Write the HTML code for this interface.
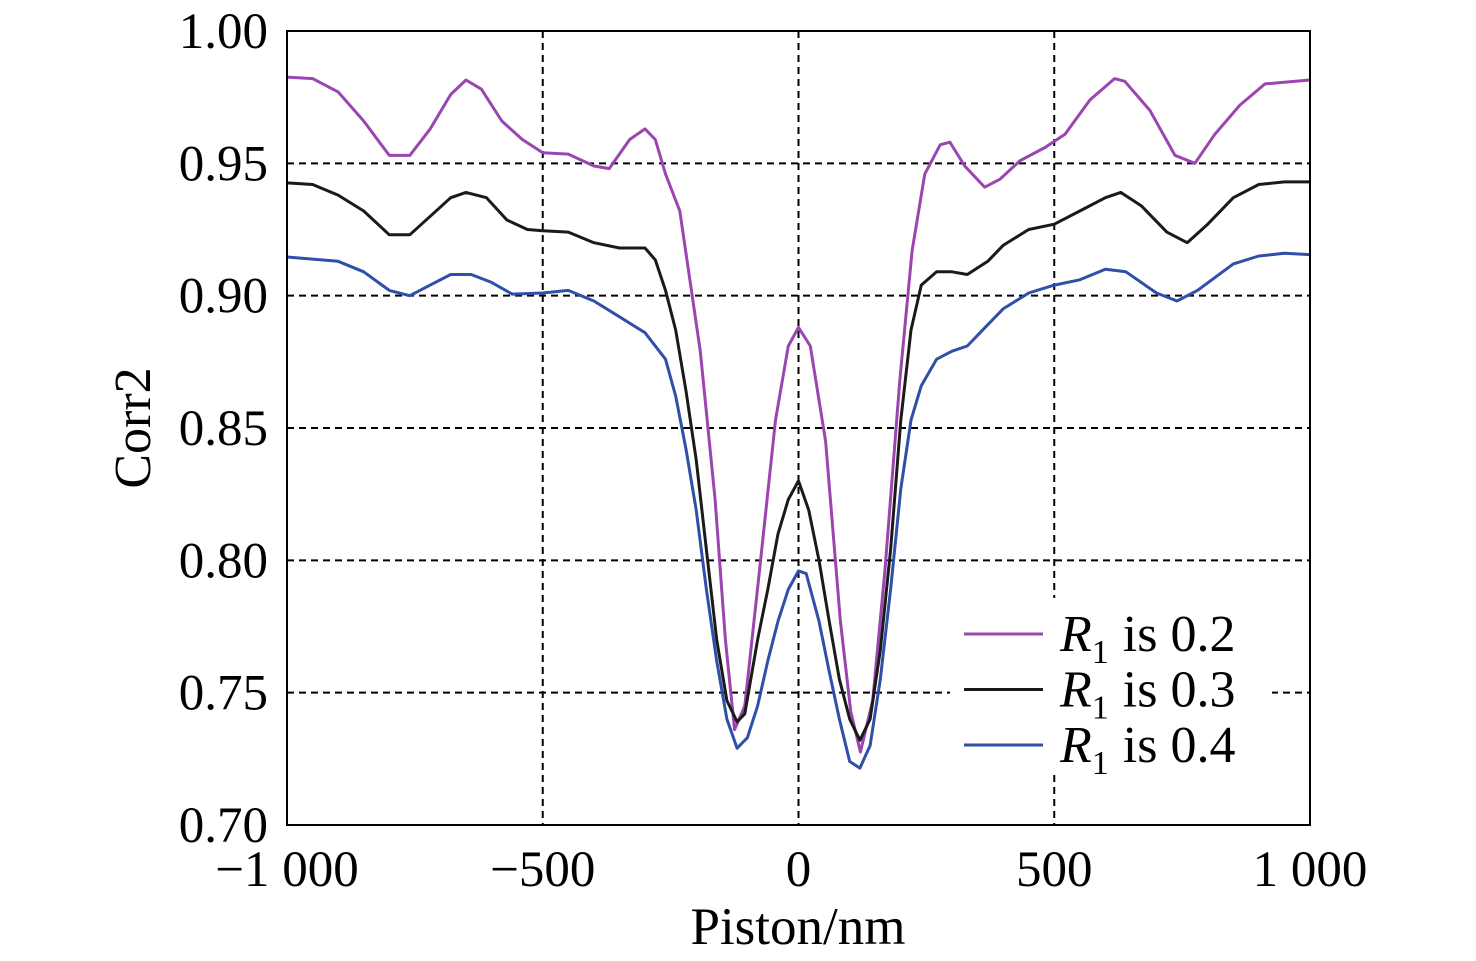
<!DOCTYPE html>
<html><head><meta charset="utf-8"><style>
html,body{margin:0;padding:0;background:#fff;}
svg{display:block;font-family:"Liberation Serif",serif;}
</style></head><body>
<svg id="chart" width="1476" height="961" viewBox="0 0 1476 961" xmlns="http://www.w3.org/2000/svg">
<g id="grid"></g>
<g id="series"></g>
<rect x="950" y="598" width="322" height="177" fill="#fff"/>
<rect x="287" y="31" width="1023" height="794" fill="none" stroke="#000" stroke-width="2"/>
<g id="ticks" font-size="51" fill="#000"></g>
<text x="798" y="944" text-anchor="middle" font-size="53">Piston/nm</text>
<text transform="translate(150,428) rotate(-90)" text-anchor="middle" font-size="52">Corr2</text>
<g id="legend" font-size="52"></g>
</svg>
<script>
const xTicks=[-1000,-500,0,500,1000];
const xTickLabels=["\u22121 000","\u2212500","0","500","1 000"];
const yTicks=[0.70,0.75,0.80,0.85,0.90,0.95,1.00];
const yTickLabels=["0.70","0.75","0.80","0.85","0.90","0.95","1.00"];
const seriesNames=["R1 is 0.2","R1 is 0.3","R1 is 0.4"];
const seriesColors=["#9b45b0","#1a1a1a","#2f4fa8"];
const x02=[-1000,-950,-900,-850,-800,-760,-720,-680,-650,-620,-580,-540,-500,-450,-400,-370,-330,-300,-280,-260,-232,-192,-163,-143,-125,-105,-74,-45,-20,0,23,53,82,102,121,145,169,198,222,247,277,296,325,364,394,433,482,521,570,618,638,687,736,775,814,863,912,1000];
const y02=[0.9826,0.982,0.977,0.966,0.953,0.953,0.963,0.976,0.9815,0.978,0.966,0.959,0.954,0.9535,0.949,0.948,0.959,0.963,0.959,0.946,0.932,0.879,0.823,0.770,0.736,0.745,0.80,0.853,0.881,0.888,0.881,0.845,0.777,0.743,0.7276,0.747,0.796,0.868,0.917,0.946,0.957,0.958,0.949,0.941,0.944,0.951,0.956,0.961,0.974,0.982,0.981,0.970,0.953,0.950,0.961,0.972,0.980,0.9815];
const x03=[-1000,-950,-900,-850,-800,-760,-720,-680,-650,-610,-570,-530,-500,-450,-400,-350,-300,-280,-260,-240,-220,-200,-180,-160,-140,-120,-105,-80,-60,-40,-20,0,20,40,60,80,100,120,140,160,180,200,220,240,270,300,330,370,400,450,500,550,600,630,670,720,760,800,850,900,950,1000];
const y03=[0.9426,0.942,0.938,0.932,0.923,0.923,0.930,0.937,0.939,0.937,0.9286,0.925,0.9245,0.924,0.920,0.918,0.918,0.9135,0.902,0.887,0.864,0.838,0.804,0.770,0.747,0.739,0.742,0.770,0.789,0.810,0.823,0.830,0.819,0.800,0.777,0.755,0.740,0.732,0.740,0.766,0.804,0.853,0.887,0.904,0.909,0.909,0.908,0.913,0.919,0.925,0.927,0.932,0.937,0.939,0.934,0.924,0.920,0.927,0.937,0.942,0.943,0.943];
const x04=[-1000,-900,-850,-800,-760,-720,-680,-640,-600,-560,-500,-450,-400,-350,-300,-260,-240,-220,-200,-180,-160,-140,-120,-100,-80,-60,-40,-20,0,15,40,60,80,100,120,140,160,180,200,220,240,270,300,330,360,400,450,500,550,600,640,700,740,780,850,900,950,1000];
const y04=[0.9146,0.913,0.909,0.902,0.900,0.904,0.908,0.908,0.905,0.9006,0.901,0.902,0.898,0.892,0.886,0.876,0.862,0.842,0.819,0.789,0.762,0.740,0.729,0.733,0.745,0.762,0.777,0.789,0.796,0.795,0.777,0.758,0.740,0.724,0.7215,0.730,0.755,0.789,0.827,0.853,0.866,0.876,0.879,0.881,0.887,0.895,0.901,0.904,0.906,0.910,0.909,0.901,0.898,0.902,0.912,0.915,0.916,0.9155];
const L=287,R=1310,T=31,B=825;
const sx=v=>L+(v+1000)/2000*(R-L);
const sy=v=>B-(v-0.70)/0.30*(B-T);
const NS="http://www.w3.org/2000/svg";
function mk(tag,attrs,parent){const e=document.createElementNS(NS,tag);for(const k in attrs)e.setAttribute(k,attrs[k]);parent.appendChild(e);return e;}
const grid=document.getElementById('grid');
[-500,0,500].forEach(v=>{
 const l=mk('line',{x1:sx(v),x2:sx(v),y1:T,y2:B,stroke:'#000','stroke-width':2,'stroke-dasharray':'7,5'},grid);
 
 
});
[0.75,0.80,0.85,0.90,0.95].forEach(v=>{
 const l=mk('line',{x1:L,x2:R,y1:sy(v),y2:sy(v),stroke:'#000','stroke-width':2,'stroke-dasharray':'7,5'},grid);
 
 
});
const ticks=document.getElementById('ticks');
xTicks.forEach((v,i)=>{
 const t=mk('text',{x:sx(v),y:886,'text-anchor':'middle'},ticks);t.textContent=xTickLabels[i];
 
 
});
yTicks.forEach((v,i)=>{
 const t=mk('text',{x:268,y:sy(v)+17,'text-anchor':'end'},ticks);t.textContent=yTickLabels[i];
 
 
});
const ser=document.getElementById('series');
[[x02,y02],[x03,y03],[x04,y04]].forEach((s,k)=>{
 const d=s[0].map((x,i)=>(i?'L':'M')+sx(x).toFixed(1)+','+sy(s[1][i]).toFixed(1)).join(' ');
 const p=mk('path',{d:d,fill:'none',stroke:seriesColors[k],'stroke-width':3,'stroke-linejoin':'round'},ser);
 
 
});
const leg=document.getElementById('legend');
seriesNames.forEach((n,k)=>{
 const y=634+k*55.5;
 const l=mk('line',{x1:964,x2:1043,y1:y,y2:y,stroke:seriesColors[k],'stroke-width':3},leg);
 
 
 const t=mk('text',{x:1060,y:y+17},leg);
 
 
 const a=mk('tspan',{'font-style':'italic'},t);a.textContent='R';
 const b=mk('tspan',{'font-size':'34',dy:'12'},t);b.textContent='1';
 const c=mk('tspan',{dy:'-12',dx:'14'},t);c.textContent='is '+n.split(' is ')[1];
});
</script>
</body></html>
